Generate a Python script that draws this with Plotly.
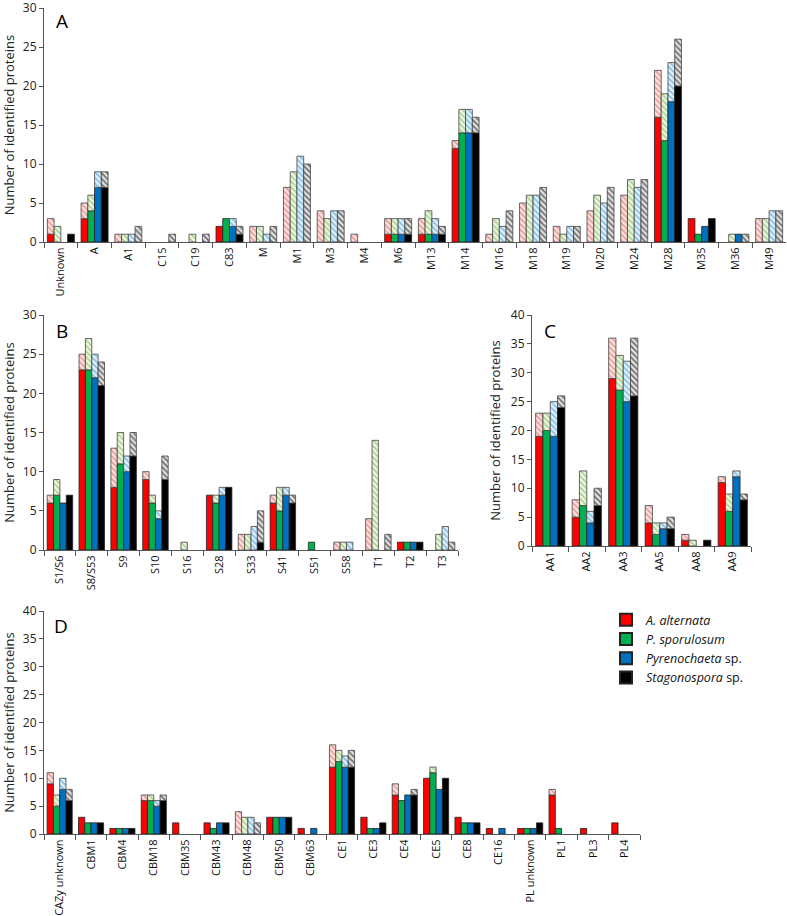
import plotly.graph_objects as go

# ---------------- data ----------------
legend_names = ["<i>A. alternata</i>", "<i>P. sporulosum</i>",
                "<i>Pyrenochaeta</i> sp.", "<i>Stagonospora</i> sp."]

# Panel A
a_cats = ["Unknown", "A", "A1", "C15", "C19", "C83", "M", "M1", "M3", "M4", "M6",
          "M13", "M14", "M16", "M18", "M19", "M20", "M24", "M28", "M35", "M36", "M49"]
a_red_solid = [1, 3, 0, 0, 0, 2, 0, 0, 0, 0, 1, 1, 12, 0, 0, 0, 0, 0, 16, 3, 0, 0]
a_red_total = [3, 5, 1, 0, 0, 2, 2, 7, 4, 1, 3, 3, 13, 1, 5, 2, 4, 6, 22, 3, 0, 3]
a_green_solid = [0, 4, 0, 0, 0, 3, 0, 0, 0, 0, 1, 1, 14, 0, 0, 0, 0, 0, 13, 1, 0, 0]
a_green_total = [2, 6, 1, 0, 1, 3, 2, 9, 3, 0, 3, 4, 17, 3, 6, 1, 6, 8, 19, 1, 1, 3]
a_blue_solid = [0, 7, 0, 0, 0, 2, 0, 0, 0, 0, 1, 1, 14, 0, 0, 0, 0, 0, 18, 2, 1, 0]
a_blue_total = [0, 9, 1, 0, 0, 3, 1, 11, 4, 0, 3, 3, 17, 2, 6, 2, 5, 7, 23, 2, 1, 4]
a_black_solid = [1, 7, 0, 0, 0, 1, 0, 0, 0, 0, 1, 1, 14, 0, 0, 0, 0, 0, 20, 3, 0, 0]
a_black_total = [1, 9, 2, 1, 1, 2, 2, 10, 4, 0, 3, 2, 16, 4, 7, 2, 7, 8, 26, 3, 1, 4]

# Panel B
b_cats = ["S1/S6", "S8/S53", "S9", "S10", "S16", "S28", "S33", "S41", "S51", "S58", "T1", "T2", "T3"]
b_red_solid = [6, 23, 8, 9, 0, 7, 0, 6, 0, 0, 0, 1, 0]
b_red_total = [7, 25, 13, 10, 0, 7, 2, 7, 0, 1, 4, 1, 0]
b_green_solid = [7, 23, 11, 6, 0, 6, 0, 5, 1, 0, 0, 1, 0]
b_green_total = [9, 27, 15, 7, 1, 7, 2, 8, 1, 1, 14, 1, 2]
b_blue_solid = [6, 22, 10, 4, 0, 7, 0, 7, 0, 0, 0, 1, 0]
b_blue_total = [6, 25, 12, 5, 0, 8, 3, 8, 0, 1, 0, 1, 3]
b_black_solid = [7, 21, 12, 9, 0, 8, 1, 6, 0, 0, 0, 1, 0]
b_black_total = [7, 24, 15, 12, 0, 8, 5, 7, 0, 0, 2, 1, 1]

# Panel C
c_cats = ["AA1", "AA2", "AA3", "AA5", "AA8", "AA9"]
c_red_solid = [19, 5, 29, 4, 1, 11]
c_red_total = [23, 8, 36, 7, 2, 12]
c_green_solid = [20, 7, 27, 2, 0, 6]
c_green_total = [23, 13, 33, 4, 1, 9]
c_blue_solid = [19, 4, 25, 3, 0, 12]
c_blue_total = [25, 6, 32, 4, 0, 13]
c_black_solid = [24, 7, 26, 3, 1, 8]
c_black_total = [26, 10, 36, 5, 1, 9]

# Panel D
d_cats = ["CAZy unknown", "CBM1", "CBM4", "CBM18", "CBM35", "CBM43", "CBM48", "CBM50", "CBM63",
          "CE1", "CE3", "CE4", "CE5", "CE8", "CE16", "PL unknown", "PL1", "PL3", "PL4"]
d_red_solid = [9, 3, 1, 6, 2, 2, 0, 3, 1, 12, 3, 7, 10, 3, 1, 1, 7, 1, 2]
d_red_total = [11, 3, 1, 7, 2, 2, 4, 3, 1, 16, 3, 9, 10, 3, 1, 1, 8, 1, 2]
d_green_solid = [5, 2, 1, 6, 0, 1, 0, 3, 0, 13, 1, 6, 11, 2, 0, 1, 1, 0, 0]
d_green_total = [7, 2, 1, 7, 0, 1, 3, 3, 0, 15, 1, 6, 12, 2, 0, 1, 1, 0, 0]
d_blue_solid = [8, 2, 1, 5, 0, 2, 0, 3, 1, 12, 1, 7, 8, 2, 1, 1, 0, 0, 0]
d_blue_total = [10, 2, 1, 6, 0, 2, 3, 3, 1, 14, 1, 7, 8, 2, 1, 1, 0, 0, 0]
d_black_solid = [6, 2, 1, 6, 0, 2, 0, 3, 0, 12, 2, 7, 10, 2, 0, 2, 0, 0, 0]
d_black_total = [8, 2, 1, 7, 0, 2, 2, 3, 0, 15, 2, 8, 10, 2, 0, 2, 0, 0, 0]

# ---------------- styles ----------------
solid_colors = ["#ff0000", "#00b050", "#0070c0", "#000000"]
hatch_fg = ["#e79a96", "#a9d18e", "#7fbde6", "#6b6b6b"]
hatch_bg = ["#fbe3e0", "#eef6e4", "#e5f1fa", "#e2e2e2"]
FONT = "Open Sans, Liberation Sans, sans-serif"

W, H = 787, 916
panels = [
    # (label, cats, series, xaxis id, yaxis id, x-domain px, y-domain px (top, bottom), ymax, label pos px)
    ("A", a_cats, [(a_red_solid, a_red_total), (a_green_solid, a_green_total),
                   (a_blue_solid, a_blue_total), (a_black_solid, a_black_total)],
     "x", "y", (44, 786), (8, 242), 30, (54, 6)),
    ("B", b_cats, [(b_red_solid, b_red_total), (b_green_solid, b_green_total),
                   (b_blue_solid, b_blue_total), (b_black_solid, b_black_total)],
     "x2", "y2", (44, 458), (315, 550), 30, (54, 316)),
    ("C", c_cats, [(c_red_solid, c_red_total), (c_green_solid, c_green_total),
                   (c_blue_solid, c_blue_total), (c_black_solid, c_black_total)],
     "x3", "y3", (532, 751), (315, 546), 40, (542, 316)),
    ("D", d_cats, [(d_red_solid, d_red_total), (d_green_solid, d_green_total),
                   (d_blue_solid, d_blue_total), (d_black_solid, d_black_total)],
     "x4", "y4", (44, 640), (611, 834), 40, (52, 611)),
]

fig = go.Figure()
layout_axes = {}
annotations = []

for pi, (label, cats, series, xa, ya, xd, yd, ymax, lp) in enumerate(panels):
    for si, (solid, total) in enumerate(series):
        solid_vals = [v if v > 0 else None for v in solid]
        hatch_vals = [(t - s) if (t - s) > 0 else None for s, t in zip(solid, total)]
        fig.add_trace(go.Bar(
            x=cats, y=solid_vals, xaxis=xa, yaxis=ya,
            offsetgroup=str(si), name=legend_names[si],
            legendgroup=str(si), showlegend=(pi == 0),
            marker=dict(color=solid_colors[si], line=dict(color="#222222", width=0.8)),
            hoverinfo="skip",
        ))
        fig.add_trace(go.Bar(
            x=cats, y=hatch_vals, base=solid, xaxis=xa, yaxis=ya,
            offsetgroup=str(si), name=legend_names[si] + " (hatched)",
            legendgroup=str(si), showlegend=False,
            marker=dict(color=hatch_bg[si],
                        pattern=dict(shape="\\", fgcolor=hatch_fg[si], bgcolor=hatch_bg[si],
                                     size=4, solidity=0.4, fillmode="replace"),
                        line=dict(color="#444444", width=0.8)),
            hoverinfo="skip",
        ))
    xkey = "xaxis" + xa[1:]
    ykey = "yaxis" + ya[1:]
    layout_axes[xkey] = dict(
        domain=[xd[0] / W, xd[1] / W], anchor=ya, type="category",
        categoryorder="array", categoryarray=cats, automargin=False,
        showline=True, linecolor="#555555", linewidth=1,
        ticks="outside", tickson="boundaries", ticklen=5, tickcolor="#555555",
        tickangle=-90, tickfont=dict(family=FONT, size=11, color="#111111"),
        ticklabeloverflow="allow",
        showgrid=False, zeroline=False, fixedrange=True,
    )
    layout_axes[ykey] = dict(
        domain=[(H - yd[1]) / H, (H - yd[0]) / H], anchor=xa,
        range=[0, ymax], dtick=5, tick0=0, automargin=False,
        showline=True, linecolor="#555555", linewidth=1,
        ticks="outside", ticklen=4, tickcolor="#555555",
        tickfont=dict(family=FONT, size=12, color="#222222"),
        ticklabeloverflow="allow",
        title=dict(text="Number of identified proteins",
                   font=dict(family=FONT, size=13, color="#222222"), standoff=7),
        showgrid=False, zeroline=False, fixedrange=True,
    )
    annotations.append(dict(
        text=label, xref="paper", yref="paper",
        x=lp[0] / W, y=(H - lp[1]) / H, xanchor="left", yanchor="top",
        showarrow=False, font=dict(family=FONT, size=19, color="#000000"),
    ))

fig.update_layout(
    width=W, height=H,
    margin=dict(l=0, r=0, t=0, b=0),
    paper_bgcolor="white", plot_bgcolor="white",
    barmode="group", bargap=0.2, bargroupgap=0.0,
    showlegend=True,
    legend=dict(x=606 / W, y=(H - 605) / H, xanchor="left", yanchor="top",
                font=dict(family=FONT, size=12.5, color="#111111"),
                bgcolor="rgba(0,0,0,0)", tracegroupgap=0, itemsizing="constant",
                traceorder="normal"),
    annotations=annotations,
    **layout_axes,
)

fig.write_html("out.html", config={"displayModeBar": False, "staticPlot": True},
               post_script="document.body.style.margin='0';document.body.style.padding='0';"
                           "document.body.style.overflow='hidden';")
